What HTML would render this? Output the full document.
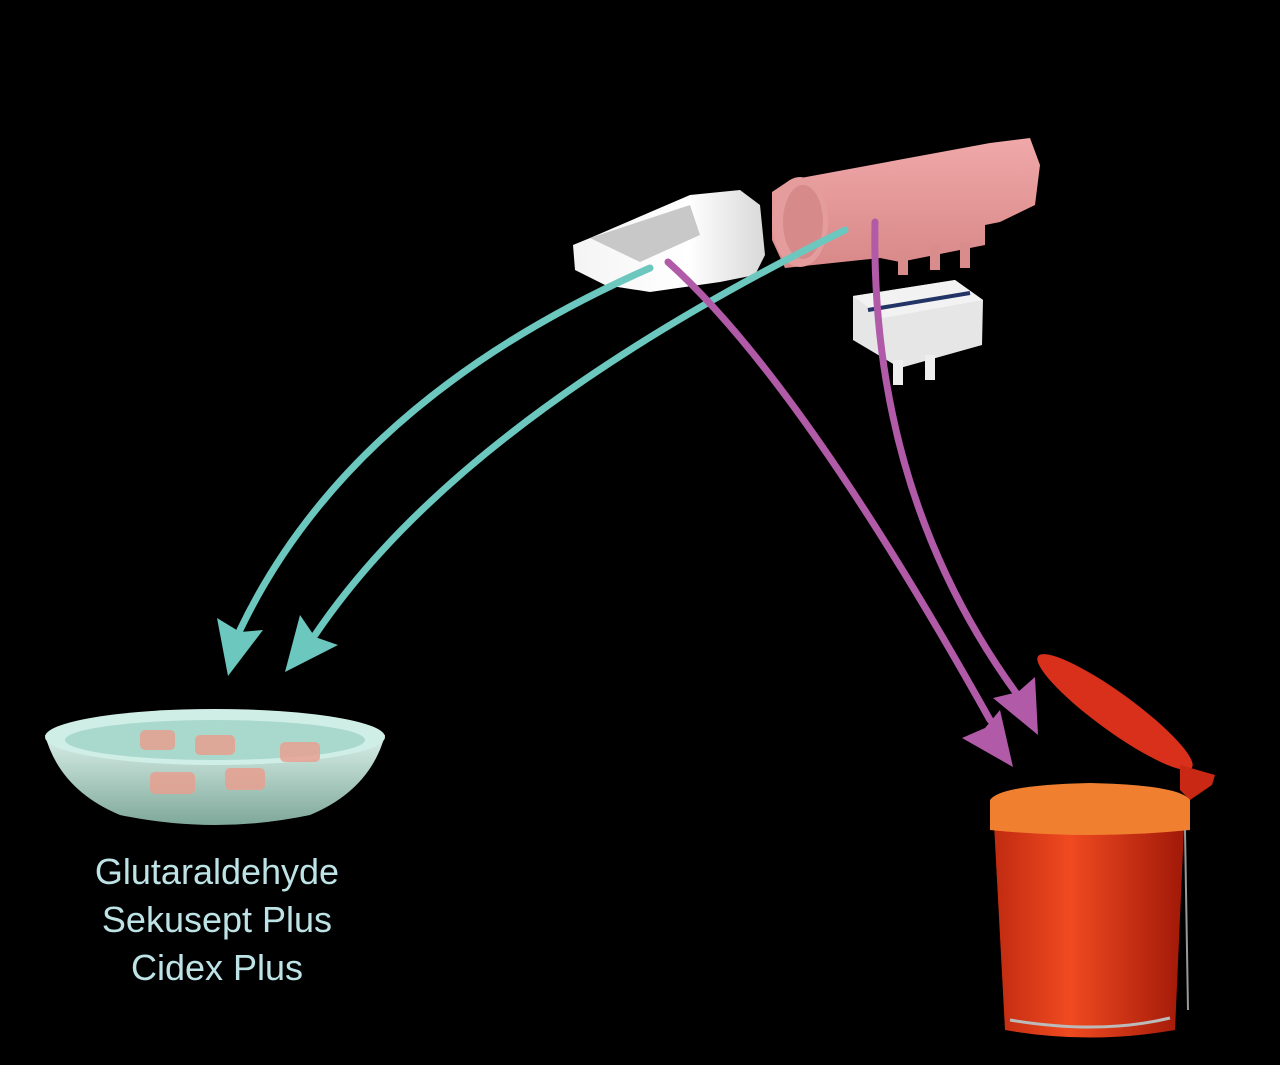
<!DOCTYPE html>
<html><head><style>
html,body{margin:0;padding:0;background:#000;}
svg{display:block}
text{font-family:"Liberation Sans",sans-serif;}
</style></head><body>
<svg width="1280" height="1065" viewBox="0 0 1280 1065" xmlns="http://www.w3.org/2000/svg">
<rect width="1280" height="1065" fill="#000"/>
<defs>
<linearGradient id="pk" x1="0" y1="0" x2="0" y2="1"><stop offset="0" stop-color="#f0a8a8"/><stop offset="1" stop-color="#d88888"/></linearGradient>
<linearGradient id="wh" x1="0" y1="0" x2="1" y2="0"><stop offset="0" stop-color="#f4f4f4"/><stop offset="0.6" stop-color="#ffffff"/><stop offset="1" stop-color="#d8d8d8"/></linearGradient>
<linearGradient id="bowl" x1="0" y1="0" x2="0" y2="1"><stop offset="0" stop-color="#d8efe8"/><stop offset="1" stop-color="#7fa89a"/></linearGradient>
<linearGradient id="can" x1="0" y1="0" x2="1" y2="0"><stop offset="0" stop-color="#c02a10"/><stop offset="0.4" stop-color="#f04a20"/><stop offset="1" stop-color="#a01808"/></linearGradient>
</defs>
<polygon points="573,245 590,238 690,195 740,190 760,205 765,255 755,275 720,282 650,292 605,285 575,270" fill="url(#wh)"/>
<polygon points="590,238 690,205 700,235 640,262" fill="#c8c8c8"/>
<polygon points="772,192 790,180 990,143 1030,138 1040,165 1035,205 1000,222 985,225 985,245 900,262 880,258 785,268 772,240" fill="url(#pk)"/>
<ellipse cx="800" cy="222" rx="28" ry="45" fill="#e59c9c"/>
<ellipse cx="803" cy="222" rx="20" ry="37" fill="#d68a8a"/>
<rect x="898" y="250" width="10" height="25" fill="#d88c8c"/>
<rect x="930" y="245" width="10" height="25" fill="#d88c8c"/>
<rect x="960" y="243" width="10" height="25" fill="#d88c8c"/>
<polygon points="853,296 955,280 983,300 982,345 900,368 853,340" fill="#e6e6e6"/>
<polygon points="853,296 955,280 983,300 883,318" fill="#f2f2f2"/>
<line x1="868" y1="310" x2="970" y2="293" stroke="#223366" stroke-width="4"/>
<rect x="893" y="360" width="10" height="25" fill="#eee"/>
<rect x="925" y="355" width="10" height="25" fill="#eee"/>
<path d="M45,735 Q60,790 120,815 Q215,835 310,815 Q370,790 385,735 Z" fill="url(#bowl)"/>
<ellipse cx="215" cy="737" rx="170" ry="28" fill="#cfeee6"/>
<ellipse cx="215" cy="740" rx="150" ry="20" fill="#a9d8cc"/>
<g fill="#e8a090" opacity="0.85">
<rect x="140" y="730" width="35" height="20" rx="5"/><rect x="195" y="735" width="40" height="20" rx="5"/>
<rect x="280" y="742" width="40" height="20" rx="5"/><rect x="150" y="772" width="45" height="22" rx="5"/>
<rect x="225" y="768" width="40" height="22" rx="5"/></g>
<!-- trash can lid -->
<ellipse cx="1115" cy="712" rx="95" ry="19" transform="rotate(36 1115 712)" fill="#d8301a"/>
<polygon points="1180,765 1215,775 1212,785 1190,800 1180,790" fill="#c82814"/>
<path d="M993,805 L1185,805 L1175,1030 Q1090,1045 1005,1030 Z" fill="url(#can)"/>
<path d="M990,800 Q1000,785 1090,783 Q1180,785 1190,800 L1190,830 Q1090,840 990,830 Z" fill="#f08030"/>
<path d="M1010,1020 Q1100,1035 1170,1018" stroke="#bbb" stroke-width="3" fill="none"/>
<line x1="1185" y1="830" x2="1188" y2="1010" stroke="#999" stroke-width="2"/>
<g fill="none" stroke-width="7" stroke-linecap="round">
<path d="M650,268 Q350,400 240,630" stroke="#6cc7be"/>
<path d="M845,230 Q460,420 315,635" stroke="#6cc7be"/>
<path d="M668,262 Q800,380 990,720" stroke="#b05aa8"/>
<path d="M875,222 Q870,500 1025,705" stroke="#b05aa8"/>
</g>
<polygon points="217,618 240,632 263,630 228,676" fill="#6cc7be"/>
<polygon points="300,615 315,637 338,645 285,672" fill="#6cc7be"/>
<polygon points="962,738 985,728 1000,710 1013,767" fill="#b05aa8"/>
<polygon points="993,698 1018,692 1035,677 1038,735" fill="#b05aa8"/>
<g fill="#bde3e6" font-size="36" text-anchor="middle">
<text x="217" y="884">Glutaraldehyde</text>
<text x="217" y="932">Sekusept Plus</text>
<text x="217" y="980">Cidex Plus</text>
</g>
</svg>
</body></html>
